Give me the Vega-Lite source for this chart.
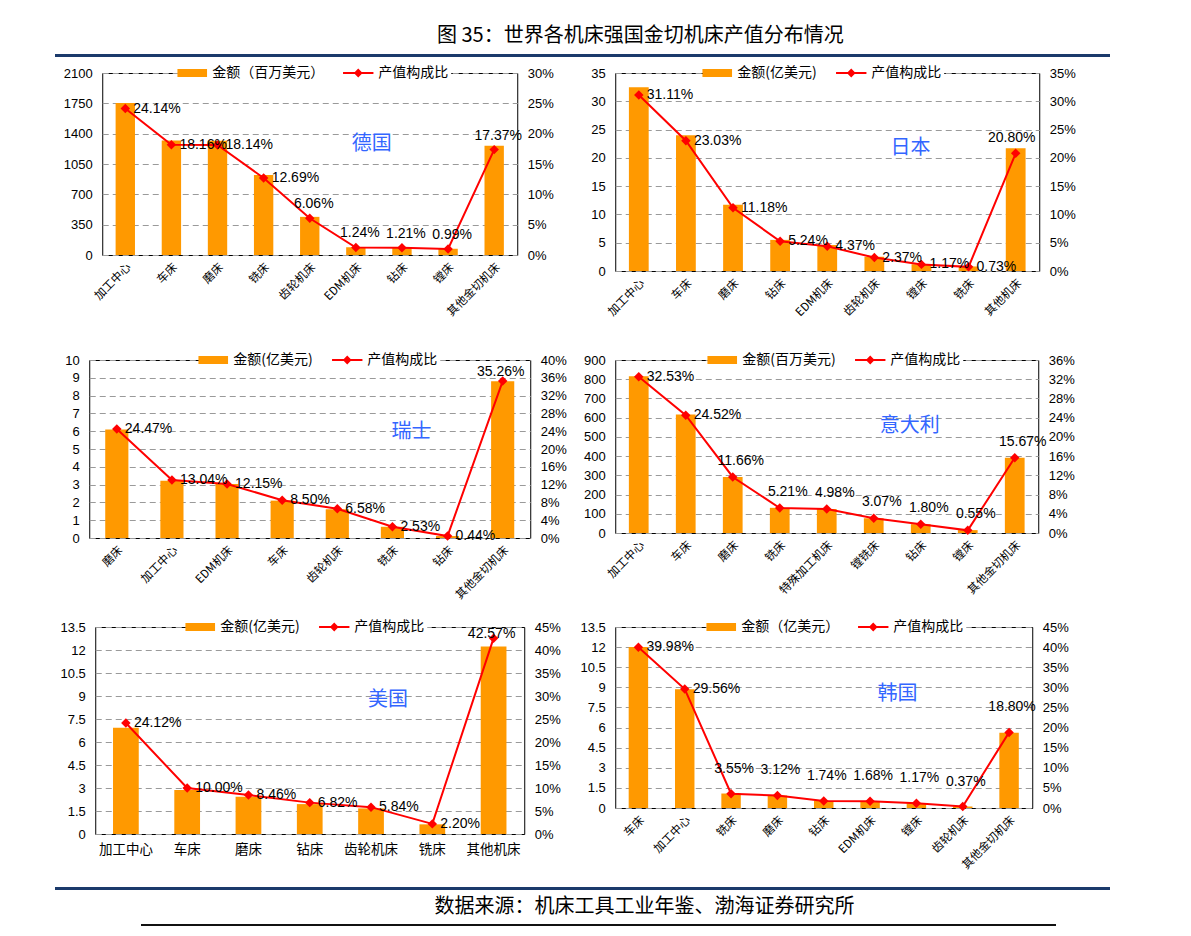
{
  "$schema": "https://vega.github.io/schema/vega-lite/v6.json",
  "padding": {"left": 55, "top": 25, "right": 5, "bottom": 5},
  "title": {"text": "图 35：世界各机床强国金切机床产值分布情况", "anchor": "start", "dx": 382, "font": "Noto Sans CJK SC", "fontSize": 20, "fontWeight": "normal", "color": "#000000", "offset": 4},
  "spacing": 0,
  "center": true,
  "datasets": {
    "de": [
      {"cat": "加工中心", "amt": 1754, "pct": 0.2414},
      {"cat": "车床", "amt": 1320, "pct": 0.1816},
      {"cat": "磨床", "amt": 1318, "pct": 0.1814},
      {"cat": "铣床", "amt": 922, "pct": 0.1269},
      {"cat": "齿轮机床", "amt": 440, "pct": 0.0606},
      {"cat": "EDM机床", "amt": 90, "pct": 0.0124},
      {"cat": "钻床", "amt": 88, "pct": 0.0121},
      {"cat": "镗床", "amt": 72, "pct": 0.0099},
      {"cat": "其他金切机床", "amt": 1262, "pct": 0.1737}
    ],
    "jp": [
      {"cat": "加工中心", "amt": 32.5, "pct": 0.3111},
      {"cat": "车床", "amt": 24.0, "pct": 0.2303},
      {"cat": "磨床", "amt": 11.7, "pct": 0.1118},
      {"cat": "钻床", "amt": 5.5, "pct": 0.0524},
      {"cat": "EDM机床", "amt": 4.6, "pct": 0.0437},
      {"cat": "齿轮机床", "amt": 2.5, "pct": 0.0237},
      {"cat": "镗床", "amt": 1.2, "pct": 0.0117},
      {"cat": "铣床", "amt": 0.8, "pct": 0.0073},
      {"cat": "其他机床", "amt": 21.7, "pct": 0.2080}
    ],
    "ch": [
      {"cat": "磨床", "amt": 6.09, "pct": 0.2447},
      {"cat": "加工中心", "amt": 3.22, "pct": 0.1304},
      {"cat": "EDM机床", "amt": 3.03, "pct": 0.1215},
      {"cat": "车床", "amt": 2.10, "pct": 0.0850},
      {"cat": "齿轮机床", "amt": 1.62, "pct": 0.0658},
      {"cat": "铣床", "amt": 0.63, "pct": 0.0253},
      {"cat": "钻床", "amt": 0.11, "pct": 0.0044},
      {"cat": "其他金切机床", "amt": 8.80, "pct": 0.3526}
    ],
    "it": [
      {"cat": "加工中心", "amt": 816, "pct": 0.3253},
      {"cat": "车床", "amt": 616, "pct": 0.2452},
      {"cat": "磨床", "amt": 291, "pct": 0.1166},
      {"cat": "铣床", "amt": 131, "pct": 0.0521},
      {"cat": "特殊加工机床", "amt": 125, "pct": 0.0498},
      {"cat": "镗铣床", "amt": 77, "pct": 0.0307},
      {"cat": "钻床", "amt": 46, "pct": 0.0180},
      {"cat": "镗床", "amt": 15, "pct": 0.0055},
      {"cat": "其他金切机床", "amt": 391, "pct": 0.1567}
    ],
    "us": [
      {"cat": "加工中心", "amt": 6.93, "pct": 0.2412},
      {"cat": "车床", "amt": 2.87, "pct": 0.1000},
      {"cat": "磨床", "amt": 2.43, "pct": 0.0846},
      {"cat": "钻床", "amt": 1.95, "pct": 0.0682},
      {"cat": "齿轮机床", "amt": 1.67, "pct": 0.0584},
      {"cat": "铣床", "amt": 0.63, "pct": 0.0220},
      {"cat": "其他机床", "amt": 12.23, "pct": 0.4257}
    ],
    "kr": [
      {"cat": "车床", "amt": 12.01, "pct": 0.3998},
      {"cat": "加工中心", "amt": 8.86, "pct": 0.2956},
      {"cat": "铣床", "amt": 1.08, "pct": 0.0355},
      {"cat": "磨床", "amt": 0.93, "pct": 0.0312},
      {"cat": "钻床", "amt": 0.53, "pct": 0.0174},
      {"cat": "EDM机床", "amt": 0.48, "pct": 0.0168},
      {"cat": "镗床", "amt": 0.35, "pct": 0.0117},
      {"cat": "齿轮机床", "amt": 0.11, "pct": 0.0037},
      {"cat": "其他金切机床", "amt": 5.62, "pct": 0.1880}
    ]
  },
  "vconcat": [
    {"width": 1055, "height": 3, "view": {"fill": "#1B3A6B", "stroke": null}, "data": {"values": [{}]}, "mark": {"type": "text", "text": ""}},
    {
      "columns": 2,
      "bounds": "flush",
      "align": "each",
      "center": {"row": false, "column": true},
      "spacing": {"row": 89, "column": 85},
      "resolve": {"scale": {"x": "independent", "y": "independent", "color": "independent", "shape": "independent"}, "legend": {"color": "independent", "shape": "independent"}},
      "concat": [
        {
          "width": 415, "height": 182,
          "view": {"stroke": "#000000", "strokeWidth": 1},
          "data": {"name": "de"},
          "layer": [
            {"mark": {"type": "bar", "color": "#FF9900"},
             "encoding": {
               "x": {"field": "cat", "type": "nominal", "sort": null, "scale": {"paddingInner": 0.58, "paddingOuter": 0.29},
                     "axis": {"title": null, "labelAngle": -45, "labelFont": "Noto Sans CJK SC", "labelFontSize": 11.5, "labelPadding": 6, "domain": false, "ticks": false, "grid": false}},
               "y": {"field": "amt", "type": "quantitative", "scale": {"domain": [0, 2100], "nice": false},
                     "axis": {"title": null, "values": [0, 350, 700, 1050, 1400, 1750, 2100], "format": ".4~g", "labelOverlap": false, "grid": true, "gridDash": [6, 4], "gridColor": "#9A9A9A", "labelPadding": 10, "domain": false, "ticks": false}}
             }},
            {"layer": [
              {"mark": {"type": "line", "color": "#FF0000", "strokeWidth": 2, "point": {"shape": "diamond", "filled": true, "size": 90, "color": "#FF0000"}},
               "encoding": {"x": {"field": "cat", "type": "nominal", "sort": null},
                            "y": {"field": "pct", "type": "quantitative", "scale": {"domain": [0, 0.30], "nice": false},
                                  "axis": {"title": null, "orient": "right", "format": ".0%", "labelOverlap": false, "tickCount": 40, "values": [0, 0.05, 0.10, 0.15, 0.20, 0.25, 0.30], "grid": false, "labelPadding": 10, "domain": false, "ticks": false}}}},
              {"transform": [{"filter": {"field": "cat", "oneOf": ["加工中心", "车床", "磨床", "铣床"]}}],
               "mark": {"type": "text", "align": "left", "baseline": "middle", "dx": 8, "font": "Liberation Sans", "fontSize": 14, "color": "#000000"},
               "encoding": {"x": {"field": "cat", "type": "nominal", "sort": null}, "y": {"field": "pct", "type": "quantitative", "scale": {"domain": [0, 0.30], "nice": false}}, "text": {"field": "pct", "format": ".2%"}}},
              {"transform": [{"filter": {"not": {"field": "cat", "oneOf": ["加工中心", "车床", "磨床", "铣床"]}}}],
               "mark": {"type": "text", "align": "center", "baseline": "bottom", "dx": 4, "dy": -7, "font": "Liberation Sans", "fontSize": 14, "color": "#000000"},
               "encoding": {"x": {"field": "cat", "type": "nominal", "sort": null}, "y": {"field": "pct", "type": "quantitative", "scale": {"domain": [0, 0.30], "nice": false}}, "text": {"field": "pct", "format": ".2%"}}},
              {"transform": [{"filter": {"field": "cat", "equal": "EDM机床"}}],
               "mark": {"type": "text", "text": "德国", "dx": 16, "font": "Noto Sans CJK SC", "fontSize": 20, "color": "#3366FF"},
               "encoding": {"x": {"field": "cat", "type": "nominal", "sort": null}, "y": {"datum": 0.183, "type": "quantitative", "scale": {"domain": [0, 0.30], "nice": false}}}},
              {"data": {"values": [{"s": "金额（百万美元）"}, {"s": "产值构成比"}]},
               "mark": {"type": "point", "filled": true, "opacity": 0},
               "encoding": {
                 "color": {"field": "s", "type": "nominal", "scale": {"domain": ["金额（百万美元）", "产值构成比"], "range": ["#FF9900", "#FF0000"]},
                           "legend": {"title": null, "orient": "none", "legendX": 79, "legendY": -11, "direction": "horizontal", "fillColor": "#FFFFFF", "padding": 3, "symbolSize": 256, "symbolStrokeWidth": 0, "symbolOpacity": 1, "labelFont": "Noto Sans CJK SC", "labelFontSize": 14, "labelColor": "#000000", "labelOffset": 12, "columnPadding": 18, "labelLimit": 400}},
                 "shape": {"field": "s", "type": "nominal", "scale": {"domain": ["金额（百万美元）", "产值构成比"], "range": ["M-1.85,-0.5H1.85V0.5H-1.85Z", "M-1.9,-0.12H1.9V0.12H-1.9Z M-0.55,0L0,-0.55L0.55,0L0,0.55Z"]},
                           "legend": {"title": null, "orient": "none", "legendX": 79, "legendY": -11, "direction": "horizontal", "fillColor": "#FFFFFF", "padding": 3, "symbolSize": 256, "symbolStrokeWidth": 0, "symbolOpacity": 1, "labelFont": "Noto Sans CJK SC", "labelFontSize": 14, "labelColor": "#000000", "labelOffset": 12, "columnPadding": 18, "labelLimit": 400}}
               }}
            ]}
          ],
          "resolve": {"scale": {"y": "independent"}}
        },
        {
          "width": 424, "height": 198,
          "view": {"stroke": "#000000", "strokeWidth": 1},
          "data": {"name": "jp"},
          "layer": [
            {"mark": {"type": "bar", "color": "#FF9900"},
             "encoding": {
               "x": {"field": "cat", "type": "nominal", "sort": null, "scale": {"paddingInner": 0.58, "paddingOuter": 0.29},
                     "axis": {"title": null, "labelAngle": -45, "labelFont": "Noto Sans CJK SC", "labelFontSize": 11.5, "labelPadding": 6, "domain": false, "ticks": false, "grid": false}},
               "y": {"field": "amt", "type": "quantitative", "scale": {"domain": [0, 35], "nice": false},
                     "axis": {"title": null, "values": [0, 5, 10, 15, 20, 25, 30, 35], "format": ".4~g", "labelOverlap": false, "grid": true, "gridDash": [6, 4], "gridColor": "#9A9A9A", "labelPadding": 10, "domain": false, "ticks": false}}
             }},
            {"layer": [
              {"mark": {"type": "line", "color": "#FF0000", "strokeWidth": 2, "point": {"shape": "diamond", "filled": true, "size": 90, "color": "#FF0000"}},
               "encoding": {"x": {"field": "cat", "type": "nominal", "sort": null},
                            "y": {"field": "pct", "type": "quantitative", "scale": {"domain": [0, 0.35], "nice": false},
                                  "axis": {"title": null, "orient": "right", "format": ".0%", "labelOverlap": false, "tickCount": 40, "values": [0, 0.05, 0.10, 0.15, 0.20, 0.25, 0.30, 0.35], "grid": false, "labelPadding": 10, "domain": false, "ticks": false}}}},
              {"transform": [{"filter": {"not": {"field": "cat", "oneOf": ["其他机床"]}}}],
               "mark": {"type": "text", "align": "left", "baseline": "middle", "dx": 8, "font": "Liberation Sans", "fontSize": 14, "color": "#000000"},
               "encoding": {"x": {"field": "cat", "type": "nominal", "sort": null}, "y": {"field": "pct", "type": "quantitative", "scale": {"domain": [0, 0.35], "nice": false}}, "text": {"field": "pct", "format": ".2%"}}},
              {"transform": [{"filter": {"field": "cat", "oneOf": ["其他机床"]}}],
               "mark": {"type": "text", "align": "center", "baseline": "bottom", "dx": -4, "dy": -8, "font": "Liberation Sans", "fontSize": 14, "color": "#000000"},
               "encoding": {"x": {"field": "cat", "type": "nominal", "sort": null}, "y": {"field": "pct", "type": "quantitative", "scale": {"domain": [0, 0.35], "nice": false}}, "text": {"field": "pct", "format": ".2%"}}},
              {"transform": [{"filter": {"field": "cat", "equal": "镗床"}}],
               "mark": {"type": "text", "text": "日本", "dx": -11, "font": "Noto Sans CJK SC", "fontSize": 20, "color": "#3366FF"},
               "encoding": {"x": {"field": "cat", "type": "nominal", "sort": null}, "y": {"datum": 0.217, "type": "quantitative", "scale": {"domain": [0, 0.35], "nice": false}}}},
              {"data": {"values": [{"s": "金额(亿美元)"}, {"s": "产值构成比"}]},
               "mark": {"type": "point", "filled": true, "opacity": 0},
               "encoding": {
                 "color": {"field": "s", "type": "nominal", "scale": {"domain": ["金额(亿美元)", "产值构成比"], "range": ["#FF9900", "#FF0000"]},
                           "legend": {"title": null, "orient": "none", "legendX": 91, "legendY": -11, "direction": "horizontal", "fillColor": "#FFFFFF", "padding": 3, "symbolSize": 256, "symbolStrokeWidth": 0, "symbolOpacity": 1, "labelFont": "Noto Sans CJK SC", "labelFontSize": 14, "labelColor": "#000000", "labelOffset": 12, "columnPadding": 18, "labelLimit": 400}},
                 "shape": {"field": "s", "type": "nominal", "scale": {"domain": ["金额(亿美元)", "产值构成比"], "range": ["M-1.85,-0.5H1.85V0.5H-1.85Z", "M-1.9,-0.12H1.9V0.12H-1.9Z M-0.55,0L0,-0.55L0.55,0L0,0.55Z"]},
                           "legend": {"title": null, "orient": "none", "legendX": 91, "legendY": -11, "direction": "horizontal", "fillColor": "#FFFFFF", "padding": 3, "symbolSize": 256, "symbolStrokeWidth": 0, "symbolOpacity": 1, "labelFont": "Noto Sans CJK SC", "labelFontSize": 14, "labelColor": "#000000", "labelOffset": 12, "columnPadding": 18, "labelLimit": 400}}
               }}
            ]}
          ],
          "resolve": {"scale": {"y": "independent"}}
        },
        {
          "width": 441, "height": 178,
          "view": {"stroke": "#000000", "strokeWidth": 1},
          "data": {"name": "ch"},
          "layer": [
            {"mark": {"type": "bar", "color": "#FF9900"},
             "encoding": {
               "x": {"field": "cat", "type": "nominal", "sort": null, "scale": {"paddingInner": 0.58, "paddingOuter": 0.29},
                     "axis": {"title": null, "labelAngle": -45, "labelFont": "Noto Sans CJK SC", "labelFontSize": 11.5, "labelPadding": 6, "domain": false, "ticks": false, "grid": false}},
               "y": {"field": "amt", "type": "quantitative", "scale": {"domain": [0, 10], "nice": false},
                     "axis": {"title": null, "values": [0, 1, 2, 3, 4, 5, 6, 7, 8, 9, 10], "format": ".4~g", "labelOverlap": false, "grid": true, "gridDash": [6, 4], "gridColor": "#9A9A9A", "labelPadding": 10, "domain": false, "ticks": false}}
             }},
            {"layer": [
              {"mark": {"type": "line", "color": "#FF0000", "strokeWidth": 2, "point": {"shape": "diamond", "filled": true, "size": 90, "color": "#FF0000"}},
               "encoding": {"x": {"field": "cat", "type": "nominal", "sort": null},
                            "y": {"field": "pct", "type": "quantitative", "scale": {"domain": [0, 0.40], "nice": false},
                                  "axis": {"title": null, "orient": "right", "format": ".0%", "labelOverlap": false, "tickCount": 40, "values": [0, 0.04, 0.08, 0.12, 0.16, 0.20, 0.24, 0.28, 0.32, 0.36, 0.40], "grid": false, "labelPadding": 10, "domain": false, "ticks": false}}}},
              {"transform": [{"filter": {"not": {"field": "cat", "oneOf": ["其他金切机床"]}}}],
               "mark": {"type": "text", "align": "left", "baseline": "middle", "dx": 8, "font": "Liberation Sans", "fontSize": 14, "color": "#000000"},
               "encoding": {"x": {"field": "cat", "type": "nominal", "sort": null}, "y": {"field": "pct", "type": "quantitative", "scale": {"domain": [0, 0.40], "nice": false}}, "text": {"field": "pct", "format": ".2%"}}},
              {"transform": [{"filter": {"field": "cat", "oneOf": ["其他金切机床"]}}],
               "mark": {"type": "text", "align": "center", "baseline": "bottom", "dx": -2, "dy": -2, "font": "Liberation Sans", "fontSize": 14, "color": "#000000"},
               "encoding": {"x": {"field": "cat", "type": "nominal", "sort": null}, "y": {"field": "pct", "type": "quantitative", "scale": {"domain": [0, 0.40], "nice": false}}, "text": {"field": "pct", "format": ".2%"}}},
              {"transform": [{"filter": {"field": "cat", "equal": "铣床"}}],
               "mark": {"type": "text", "text": "瑞士", "dx": 19, "font": "Noto Sans CJK SC", "fontSize": 20, "color": "#3366FF"},
               "encoding": {"x": {"field": "cat", "type": "nominal", "sort": null}, "y": {"datum": 0.238, "type": "quantitative", "scale": {"domain": [0, 0.40], "nice": false}}}},
              {"data": {"values": [{"s": "金额(亿美元)"}, {"s": "产值构成比"}]},
               "mark": {"type": "point", "filled": true, "opacity": 0},
               "encoding": {
                 "color": {"field": "s", "type": "nominal", "scale": {"domain": ["金额(亿美元)", "产值构成比"], "range": ["#FF9900", "#FF0000"]},
                           "legend": {"title": null, "orient": "none", "legendX": 113, "legendY": -11, "direction": "horizontal", "fillColor": "#FFFFFF", "padding": 3, "symbolSize": 256, "symbolStrokeWidth": 0, "symbolOpacity": 1, "labelFont": "Noto Sans CJK SC", "labelFontSize": 14, "labelColor": "#000000", "labelOffset": 12, "columnPadding": 18, "labelLimit": 400}},
                 "shape": {"field": "s", "type": "nominal", "scale": {"domain": ["金额(亿美元)", "产值构成比"], "range": ["M-1.85,-0.5H1.85V0.5H-1.85Z", "M-1.9,-0.12H1.9V0.12H-1.9Z M-0.55,0L0,-0.55L0.55,0L0,0.55Z"]},
                           "legend": {"title": null, "orient": "none", "legendX": 113, "legendY": -11, "direction": "horizontal", "fillColor": "#FFFFFF", "padding": 3, "symbolSize": 256, "symbolStrokeWidth": 0, "symbolOpacity": 1, "labelFont": "Noto Sans CJK SC", "labelFontSize": 14, "labelColor": "#000000", "labelOffset": 12, "columnPadding": 18, "labelLimit": 400}}
               }}
            ]}
          ],
          "resolve": {"scale": {"y": "independent"}}
        },
        {
          "width": 423, "height": 173,
          "view": {"stroke": "#000000", "strokeWidth": 1},
          "data": {"name": "it"},
          "layer": [
            {"mark": {"type": "bar", "color": "#FF9900"},
             "encoding": {
               "x": {"field": "cat", "type": "nominal", "sort": null, "scale": {"paddingInner": 0.58, "paddingOuter": 0.29},
                     "axis": {"title": null, "labelAngle": -45, "labelFont": "Noto Sans CJK SC", "labelFontSize": 11.5, "labelPadding": 6, "domain": false, "ticks": false, "grid": false}},
               "y": {"field": "amt", "type": "quantitative", "scale": {"domain": [0, 900], "nice": false},
                     "axis": {"title": null, "values": [0, 100, 200, 300, 400, 500, 600, 700, 800, 900], "format": ".4~g", "labelOverlap": false, "grid": true, "gridDash": [6, 4], "gridColor": "#9A9A9A", "labelPadding": 10, "domain": false, "ticks": false}}
             }},
            {"layer": [
              {"mark": {"type": "line", "color": "#FF0000", "strokeWidth": 2, "point": {"shape": "diamond", "filled": true, "size": 90, "color": "#FF0000"}},
               "encoding": {"x": {"field": "cat", "type": "nominal", "sort": null},
                            "y": {"field": "pct", "type": "quantitative", "scale": {"domain": [0, 0.36], "nice": false},
                                  "axis": {"title": null, "orient": "right", "format": ".0%", "labelOverlap": false, "tickCount": 40, "values": [0, 0.04, 0.08, 0.12, 0.16, 0.20, 0.24, 0.28, 0.32, 0.36], "grid": false, "labelPadding": 10, "domain": false, "ticks": false}}}},
              {"transform": [{"filter": {"field": "cat", "oneOf": ["加工中心", "车床"]}}],
               "mark": {"type": "text", "align": "left", "baseline": "middle", "dx": 8, "font": "Liberation Sans", "fontSize": 14, "color": "#000000"},
               "encoding": {"x": {"field": "cat", "type": "nominal", "sort": null}, "y": {"field": "pct", "type": "quantitative", "scale": {"domain": [0, 0.36], "nice": false}}, "text": {"field": "pct", "format": ".2%"}}},
              {"transform": [{"filter": {"not": {"field": "cat", "oneOf": ["加工中心", "车床"]}}}],
               "mark": {"type": "text", "align": "center", "baseline": "bottom", "dx": 8, "dy": -9, "font": "Liberation Sans", "fontSize": 14, "color": "#000000"},
               "encoding": {"x": {"field": "cat", "type": "nominal", "sort": null}, "y": {"field": "pct", "type": "quantitative", "scale": {"domain": [0, 0.36], "nice": false}}, "text": {"field": "pct", "format": ".2%"}}},
              {"transform": [{"filter": {"field": "cat", "equal": "钻床"}}],
               "mark": {"type": "text", "text": "意大利", "dx": -11, "font": "Noto Sans CJK SC", "fontSize": 20, "color": "#3366FF"},
               "encoding": {"x": {"field": "cat", "type": "nominal", "sort": null}, "y": {"datum": 0.222, "type": "quantitative", "scale": {"domain": [0, 0.36], "nice": false}}}},
              {"data": {"values": [{"s": "金额(百万美元)"}, {"s": "产值构成比"}]},
               "mark": {"type": "point", "filled": true, "opacity": 0},
               "encoding": {
                 "color": {"field": "s", "type": "nominal", "scale": {"domain": ["金额(百万美元)", "产值构成比"], "range": ["#FF9900", "#FF0000"]},
                           "legend": {"title": null, "orient": "none", "legendX": 96, "legendY": -11, "direction": "horizontal", "fillColor": "#FFFFFF", "padding": 3, "symbolSize": 256, "symbolStrokeWidth": 0, "symbolOpacity": 1, "labelFont": "Noto Sans CJK SC", "labelFontSize": 14, "labelColor": "#000000", "labelOffset": 12, "columnPadding": 18, "labelLimit": 400}},
                 "shape": {"field": "s", "type": "nominal", "scale": {"domain": ["金额(百万美元)", "产值构成比"], "range": ["M-1.85,-0.5H1.85V0.5H-1.85Z", "M-1.9,-0.12H1.9V0.12H-1.9Z M-0.55,0L0,-0.55L0.55,0L0,0.55Z"]},
                           "legend": {"title": null, "orient": "none", "legendX": 96, "legendY": -11, "direction": "horizontal", "fillColor": "#FFFFFF", "padding": 3, "symbolSize": 256, "symbolStrokeWidth": 0, "symbolOpacity": 1, "labelFont": "Noto Sans CJK SC", "labelFontSize": 14, "labelColor": "#000000", "labelOffset": 12, "columnPadding": 18, "labelLimit": 400}}
               }}
            ]}
          ],
          "resolve": {"scale": {"y": "independent"}}
        },
        {
          "width": 429, "height": 207,
          "view": {"stroke": "#000000", "strokeWidth": 1},
          "data": {"name": "us"},
          "layer": [
            {"mark": {"type": "bar", "color": "#FF9900"},
             "encoding": {
               "x": {"field": "cat", "type": "nominal", "sort": null, "scale": {"paddingInner": 0.58, "paddingOuter": 0.29},
                     "axis": {"title": null, "labelAngle": 0, "labelFont": "Noto Sans CJK SC", "labelFontSize": 13.5, "labelPadding": 8, "domain": false, "ticks": false, "grid": false}},
               "y": {"field": "amt", "type": "quantitative", "scale": {"domain": [0, 13.5], "nice": false},
                     "axis": {"title": null, "values": [0, 1.5, 3, 4.5, 6, 7.5, 9, 10.5, 12, 13.5], "format": ".4~g", "labelOverlap": false, "grid": true, "gridDash": [6, 4], "gridColor": "#9A9A9A", "labelPadding": 10, "domain": false, "ticks": false}}
             }},
            {"layer": [
              {"mark": {"type": "line", "color": "#FF0000", "strokeWidth": 2, "point": {"shape": "diamond", "filled": true, "size": 90, "color": "#FF0000"}},
               "encoding": {"x": {"field": "cat", "type": "nominal", "sort": null},
                            "y": {"field": "pct", "type": "quantitative", "scale": {"domain": [0, 0.45], "nice": false},
                                  "axis": {"title": null, "orient": "right", "format": ".0%", "labelOverlap": false, "tickCount": 40, "values": [0, 0.05, 0.10, 0.15, 0.20, 0.25, 0.30, 0.35, 0.40, 0.45], "grid": false, "labelPadding": 10, "domain": false, "ticks": false}}}},
              {"transform": [{"filter": {"not": {"field": "cat", "oneOf": ["其他机床"]}}}],
               "mark": {"type": "text", "align": "left", "baseline": "middle", "dx": 8, "font": "Liberation Sans", "fontSize": 14, "color": "#000000"},
               "encoding": {"x": {"field": "cat", "type": "nominal", "sort": null}, "y": {"field": "pct", "type": "quantitative", "scale": {"domain": [0, 0.45], "nice": false}}, "text": {"field": "pct", "format": ".2%"}}},
              {"transform": [{"filter": {"field": "cat", "oneOf": ["其他机床"]}}],
               "mark": {"type": "text", "align": "center", "baseline": "bottom", "dx": -2, "dy": 3, "font": "Liberation Sans", "fontSize": 14, "color": "#000000"},
               "encoding": {"x": {"field": "cat", "type": "nominal", "sort": null}, "y": {"field": "pct", "type": "quantitative", "scale": {"domain": [0, 0.45], "nice": false}}, "text": {"field": "pct", "format": ".2%"}}},
              {"transform": [{"filter": {"field": "cat", "equal": "齿轮机床"}}],
               "mark": {"type": "text", "text": "美国", "dx": 17, "font": "Noto Sans CJK SC", "fontSize": 20, "color": "#3366FF"},
               "encoding": {"x": {"field": "cat", "type": "nominal", "sort": null}, "y": {"datum": 0.291, "type": "quantitative", "scale": {"domain": [0, 0.45], "nice": false}}}},
              {"data": {"values": [{"s": "金额(亿美元)"}, {"s": "产值构成比"}]},
               "mark": {"type": "point", "filled": true, "opacity": 0},
               "encoding": {
                 "color": {"field": "s", "type": "nominal", "scale": {"domain": ["金额(亿美元)", "产值构成比"], "range": ["#FF9900", "#FF0000"]},
                           "legend": {"title": null, "orient": "none", "legendX": 94, "legendY": -11, "direction": "horizontal", "fillColor": "#FFFFFF", "padding": 3, "symbolSize": 256, "symbolStrokeWidth": 0, "symbolOpacity": 1, "labelFont": "Noto Sans CJK SC", "labelFontSize": 14, "labelColor": "#000000", "labelOffset": 12, "columnPadding": 18, "labelLimit": 400}},
                 "shape": {"field": "s", "type": "nominal", "scale": {"domain": ["金额(亿美元)", "产值构成比"], "range": ["M-1.85,-0.5H1.85V0.5H-1.85Z", "M-1.9,-0.12H1.9V0.12H-1.9Z M-0.55,0L0,-0.55L0.55,0L0,0.55Z"]},
                           "legend": {"title": null, "orient": "none", "legendX": 94, "legendY": -11, "direction": "horizontal", "fillColor": "#FFFFFF", "padding": 3, "symbolSize": 256, "symbolStrokeWidth": 0, "symbolOpacity": 1, "labelFont": "Noto Sans CJK SC", "labelFontSize": 14, "labelColor": "#000000", "labelOffset": 12, "columnPadding": 18, "labelLimit": 400}}
               }}
            ]}
          ],
          "resolve": {"scale": {"y": "independent"}}
        },
        {
          "width": 417, "height": 181,
          "view": {"stroke": "#000000", "strokeWidth": 1},
          "data": {"name": "kr"},
          "layer": [
            {"mark": {"type": "bar", "color": "#FF9900"},
             "encoding": {
               "x": {"field": "cat", "type": "nominal", "sort": null, "scale": {"paddingInner": 0.58, "paddingOuter": 0.29},
                     "axis": {"title": null, "labelAngle": -45, "labelFont": "Noto Sans CJK SC", "labelFontSize": 11.5, "labelPadding": 6, "domain": false, "ticks": false, "grid": false}},
               "y": {"field": "amt", "type": "quantitative", "scale": {"domain": [0, 13.5], "nice": false},
                     "axis": {"title": null, "values": [0, 1.5, 3, 4.5, 6, 7.5, 9, 10.5, 12, 13.5], "format": ".4~g", "labelOverlap": false, "grid": true, "gridDash": [6, 4], "gridColor": "#9A9A9A", "labelPadding": 10, "domain": false, "ticks": false}}
             }},
            {"layer": [
              {"mark": {"type": "line", "color": "#FF0000", "strokeWidth": 2, "point": {"shape": "diamond", "filled": true, "size": 90, "color": "#FF0000"}},
               "encoding": {"x": {"field": "cat", "type": "nominal", "sort": null},
                            "y": {"field": "pct", "type": "quantitative", "scale": {"domain": [0, 0.45], "nice": false},
                                  "axis": {"title": null, "orient": "right", "format": ".0%", "labelOverlap": false, "tickCount": 40, "values": [0, 0.05, 0.10, 0.15, 0.20, 0.25, 0.30, 0.35, 0.40, 0.45], "grid": false, "labelPadding": 10, "domain": false, "ticks": false}}}},
              {"transform": [{"filter": {"field": "cat", "oneOf": ["车床", "加工中心"]}}],
               "mark": {"type": "text", "align": "left", "baseline": "middle", "dx": 8, "font": "Liberation Sans", "fontSize": 14, "color": "#000000"},
               "encoding": {"x": {"field": "cat", "type": "nominal", "sort": null}, "y": {"field": "pct", "type": "quantitative", "scale": {"domain": [0, 0.45], "nice": false}}, "text": {"field": "pct", "format": ".2%"}}},
              {"transform": [{"filter": {"not": {"field": "cat", "oneOf": ["车床", "加工中心"]}}}],
               "mark": {"type": "text", "align": "center", "baseline": "bottom", "dx": 3, "dy": -18, "font": "Liberation Sans", "fontSize": 14, "color": "#000000"},
               "encoding": {"x": {"field": "cat", "type": "nominal", "sort": null}, "y": {"field": "pct", "type": "quantitative", "scale": {"domain": [0, 0.45], "nice": false}}, "text": {"field": "pct", "format": ".2%"}}},
              {"transform": [{"filter": {"field": "cat", "equal": "镗床"}}],
               "mark": {"type": "text", "text": "韩国", "dx": -19, "font": "Noto Sans CJK SC", "fontSize": 20, "color": "#3366FF"},
               "encoding": {"x": {"field": "cat", "type": "nominal", "sort": null}, "y": {"datum": 0.284, "type": "quantitative", "scale": {"domain": [0, 0.45], "nice": false}}}},
              {"data": {"values": [{"s": "金额（亿美元）"}, {"s": "产值构成比"}]},
               "mark": {"type": "point", "filled": true, "opacity": 0},
               "encoding": {
                 "color": {"field": "s", "type": "nominal", "scale": {"domain": ["金额（亿美元）", "产值构成比"], "range": ["#FF9900", "#FF0000"]},
                           "legend": {"title": null, "orient": "none", "legendX": 95, "legendY": -11, "direction": "horizontal", "fillColor": "#FFFFFF", "padding": 3, "symbolSize": 256, "symbolStrokeWidth": 0, "symbolOpacity": 1, "labelFont": "Noto Sans CJK SC", "labelFontSize": 14, "labelColor": "#000000", "labelOffset": 12, "columnPadding": 18, "labelLimit": 400}},
                 "shape": {"field": "s", "type": "nominal", "scale": {"domain": ["金额（亿美元）", "产值构成比"], "range": ["M-1.85,-0.5H1.85V0.5H-1.85Z", "M-1.9,-0.12H1.9V0.12H-1.9Z M-0.55,0L0,-0.55L0.55,0L0,0.55Z"]},
                           "legend": {"title": null, "orient": "none", "legendX": 95, "legendY": -11, "direction": "horizontal", "fillColor": "#FFFFFF", "padding": 3, "symbolSize": 256, "symbolStrokeWidth": 0, "symbolOpacity": 1, "labelFont": "Noto Sans CJK SC", "labelFontSize": 14, "labelColor": "#000000", "labelOffset": 12, "columnPadding": 18, "labelLimit": 400}}
               }}
            ]}
          ],
          "resolve": {"scale": {"y": "independent"}}
        }
      ]
    },
    {
      "bounds": "flush",
      "spacing": 8,
      "vconcat": [
        {"width": 1055, "height": 1, "data": {"values": [{}]}, "mark": {"type": "text", "text": ""}},
        {"width": 1055, "height": 3, "view": {"fill": "#1B3A6B", "stroke": null}, "data": {"values": [{}]}, "mark": {"type": "text", "text": ""}},
        {"width": 1055, "height": 18, "data": {"values": [{"t": "数据来源：机床工具工业年鉴、渤海证券研究所"}]}, "mark": {"type": "text", "dx": 62, "font": "Noto Sans CJK SC", "fontSize": 20, "color": "#000000"}, "encoding": {"text": {"field": "t"}}},
        {"spacing": 0, "hconcat": [
          {"width": 86, "height": 2, "data": {"values": [{}]}, "mark": {"type": "text", "text": ""}},
          {"width": 915, "height": 2, "view": {"fill": "#111111", "stroke": null}, "data": {"values": [{}]}, "mark": {"type": "text", "text": ""}}
        ]}
      ]
    }
  ],
  "config": {
    "view": {"stroke": null},
    "axis": {"labelFont": "Liberation Sans", "labelFontSize": 13, "labelColor": "#000000", "labelOverlap": false}
  }
}
